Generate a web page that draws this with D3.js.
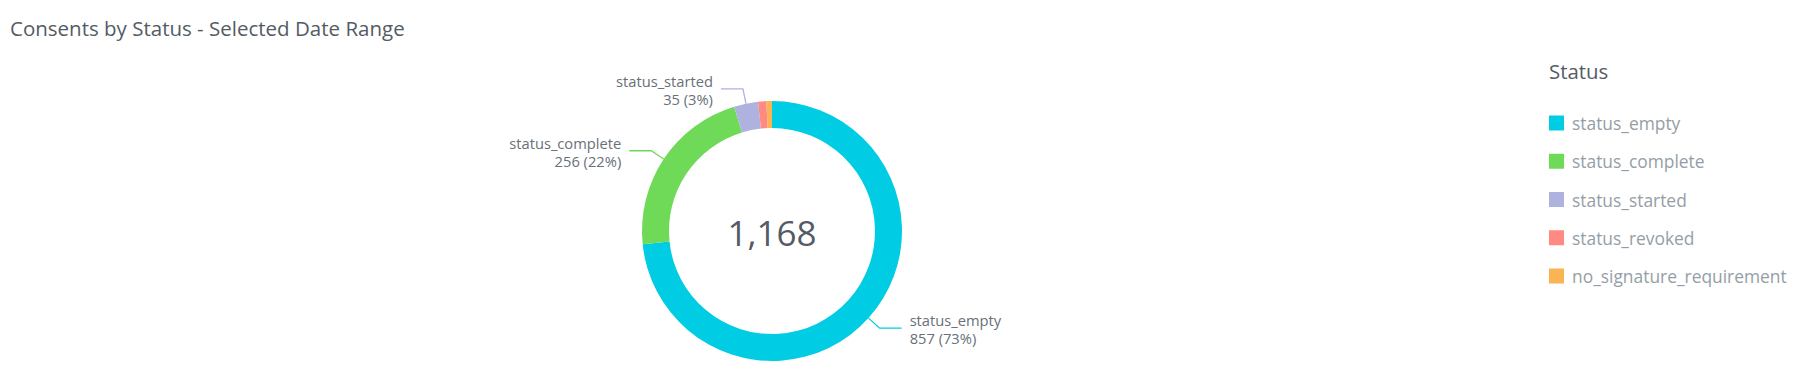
<!DOCTYPE html>
<html>
<head>
<meta charset="utf-8">
<script src="https://cdn.jsdelivr.net/npm/d3@7"></script>
<style>
  html, body { margin: 0; padding: 0; background: #fff; }
  svg { display: block; font-family: "Open Sans", "Noto Sans", sans-serif; }
</style>
</head>
<body>
<svg id="chart"></svg>
<script>
// data
const categories = ['status_empty', 'status_complete', 'status_started', 'status_revoked', 'no_signature_requirement'];
const counts = [857, 256, 35, 12, 8];
const colors = ['#00cce4', '#6fda58', '#afb1de', '#ff8a84', '#fbb454'];
const chartTitle = 'Consents by Status - Selected Date Range';
const legendTitle = 'Status';

const width = 1818, height = 382;
const cx = 772, cy = 231;
const outerR = 130, innerR = 103, elbowR = 145;

const svg = d3.select('#chart')
  .attr('width', width)
  .attr('height', height)
  .attr('viewBox', [0, 0, width, height]);

// Title
svg.append('text')
  .attr('x', 10)
  .attr('y', 28)
  .attr('dominant-baseline', 'central')
  .attr('fill', '#545b64')
  .attr('font-size', 20.5)
  .text(chartTitle);

const total = d3.sum(counts);
const color = d3.scaleOrdinal(categories, colors);
const data = categories.map((c, i) => ({ name: c, value: counts[i] }));

const pie = d3.pie().sort(null).value(d => d.value);
const arcs = pie(data);
const arc = d3.arc().innerRadius(innerR).outerRadius(outerR);
const arcOuter = d3.arc().innerRadius(outerR).outerRadius(outerR);
const arcElbow = d3.arc().innerRadius(elbowR).outerRadius(elbowR);

const g = svg.append('g').attr('transform', `translate(${cx},${cy})`);

// Slices
g.append('g')
  .selectAll('path')
  .data(arcs)
  .join('path')
    .attr('fill', d => color(d.data.name))
    .attr('d', arc);

// Center total
g.append('text')
  .attr('text-anchor', 'middle')
  .attr('dominant-baseline', 'central')
  .attr('y', 1)
  .attr('fill', '#545b64')
  .attr('font-size', 35)
  .text(d3.format(',')(total));

// Leader lines + labels (small slices get none)
const labelled = arcs.filter(d => d.data.value / total >= 0.02);
const fmtPct = v => `${Math.round(v / total * 100)}%`;

labelled.forEach(d => {
  const mid = (d.startAngle + d.endAngle) / 2;
  const right = Math.sin(mid) > 0;
  const p0 = arcOuter.centroid(d);
  const p1 = arcElbow.centroid(d);
  const p2 = [p1[0] + (right ? 22 : -22), p1[1]];
  g.append('polyline')
    .attr('points', [p0, p1, p2].map(p => p.join(',')).join(' '))
    .attr('fill', 'none')
    .attr('stroke', color(d.data.name))
    .attr('stroke-width', 1.3);
  const t = g.append('text')
    .attr('text-anchor', right ? 'start' : 'end')
    .attr('fill', '#687078')
    .attr('font-size', 14.7);
  t.append('tspan')
    .attr('x', p2[0] + (right ? 8 : -8))
    .attr('y', p2[1] - 8)
    .attr('dominant-baseline', 'central')
    .text(d.data.name);
  t.append('tspan')
    .attr('x', p2[0] + (right ? 8 : -8))
    .attr('y', p2[1] + 10)
    .attr('dominant-baseline', 'central')
    .text(`${d.data.value} (${fmtPct(d.data.value)})`);
});

// Legend
const legend = svg.append('g').attr('transform', 'translate(1549,0)');
legend.append('text')
  .attr('x', 0)
  .attr('y', 71)
  .attr('dominant-baseline', 'central')
  .attr('fill', '#545b64')
  .attr('font-size', 20.4)
  .text(legendTitle);

const rowY = d3.scalePoint(categories, [123, 276]);
const rows = legend.selectAll('g.row')
  .data(categories)
  .join('g')
    .attr('class', 'row')
    .attr('transform', d => `translate(0,${rowY(d)})`);
rows.append('rect')
  .attr('x', 0)
  .attr('y', -7.5)
  .attr('width', 15)
  .attr('height', 15)
  .attr('fill', d => color(d));
rows.append('text')
  .attr('x', 23)
  .attr('y', 0)
  .attr('dominant-baseline', 'central')
  .attr('fill', '#959ea6')
  .attr('font-size', 17.4)
  .text(d => d);
</script>
</body>
</html>
